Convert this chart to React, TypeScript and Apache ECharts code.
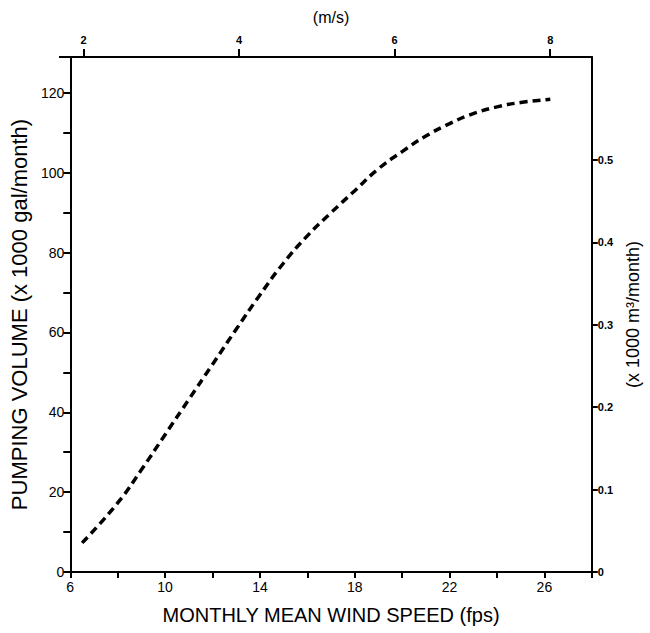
import React, { useEffect, useRef } from "react";
import * as echarts from "echarts";

const windFps = [6.5, 8, 9, 10, 11, 12, 13, 14, 15, 16, 17, 18, 19, 20, 21, 22, 23, 24, 25, 26.25];
const pumpVolume = [7.3, 17.3, 25.6, 34.4, 43.2, 52, 60.8, 69.4, 77.4, 84.2, 90, 95.5, 101, 105.3, 109.2, 112.3, 114.8, 116.5, 117.6, 118.4];
const topTicks = [2, 4, 6, 8];
const rightTicks = [0, 0.1, 0.2, 0.3, 0.4, 0.5];
const FPS_PER_MS = 3.28084;

const FONT = "'Liberation Sans', Arial, Helvetica, sans-serif";

export default function App() {
  const ref = useRef<HTMLDivElement>(null);
  useEffect(() => {
    if (!ref.current) return;
    const chart = echarts.init(ref.current, null, { renderer: "svg" });
    const axisLine = { show: true, onZero: false, lineStyle: { color: "#000", width: 2 } };
    const tick = { show: true, inside: false, length: 6, lineStyle: { color: "#000", width: 2 } };
    chart.setOption({
      animation: false,
      backgroundColor: "#fff",
      grid: { left: 67, right: 56, top: 57, bottom: 61, containLabel: false },
      graphic: [
        {
          type: "line",
          shape: { x1: 59, y1: 57, x2: 68, y2: 57 },
          style: { stroke: "#000", lineWidth: 2 },
        },
      ],
      xAxis: [
        {
          type: "value",
          position: "bottom",
          min: 6,
          max: 28,
          interval: 2,
          axisLine,
          axisTick: tick,
          splitLine: { show: false },
          axisLabel: {
            color: "#000",
            fontFamily: FONT,
            fontSize: 14,
            margin: 8,
            formatter: (v: number) => ((v - 6) % 4 === 0 && v < 28 ? String(v) : ""),
          },
          name: "MONTHLY MEAN WIND SPEED (fps)",
          nameLocation: "middle",
          nameGap: 33,
          nameTextStyle: { color: "#000", fontFamily: FONT, fontSize: 20 },
        },
        {
          type: "value",
          position: "top",
          min: 6 / FPS_PER_MS,
          max: 28 / FPS_PER_MS,
          axisLine,
          axisTick: { ...tick, length: 8, customValues: topTicks },
          splitLine: { show: false },
          axisLabel: {
            color: "#000",
            fontFamily: FONT,
            fontSize: 11,
            fontWeight: "bold",
            margin: 12,
            customValues: topTicks,
            formatter: (v: number) => String(v),
          },
          name: "(m/s)",
          nameLocation: "middle",
          nameGap: 32,
          nameTextStyle: { color: "#000", fontFamily: FONT, fontSize: 16 },
        },
      ],
      yAxis: [
        {
          type: "value",
          position: "left",
          min: 0,
          max: 129,
          interval: 10,
          axisLine,
          axisTick: { ...tick, length: 7 },
          splitLine: { show: false },
          axisLabel: {
            color: "#000",
            fontFamily: FONT,
            fontSize: 14,
            margin: 6,
            formatter: (v: number) => (v % 20 === 0 ? String(v) : ""),
          },
          name: "PUMPING VOLUME (x 1000 gal/month)",
          nameLocation: "middle",
          nameGap: 37,
          nameRotate: 90,
          nameTextStyle: { color: "#000", fontFamily: FONT, fontSize: 22 },
        },
        {
          type: "value",
          position: "right",
          min: 0,
          max: 0.625,
          axisLine,
          axisTick: { ...tick, customValues: rightTicks },
          splitLine: { show: false },
          axisLabel: {
            color: "#000",
            fontFamily: FONT,
            fontSize: 11,
            fontWeight: "bold",
            margin: 6,
            customValues: rightTicks,
            formatter: (v: number) => (v === 0 ? "0" : v.toFixed(1)),
          },
          name: "(x 1000 m\u00b3/month)",
          nameLocation: "middle",
          nameGap: 31,
          nameRotate: 90,
          nameTextStyle: { color: "#000", fontFamily: FONT, fontSize: 18 },
        },
      ],
      series: [
        {
          type: "line",
          xAxisIndex: 0,
          yAxisIndex: 0,
          data: windFps.map((x, i) => [x, pumpVolume[i]]),
          smooth: 0.5,
          showSymbol: false,
          lineStyle: { color: "#000", width: 3.5, type: [8, 5], cap: "butt" },
        },
      ],
    });
    return () => chart.dispose();
  }, []);
  return (
    <div
      ref={ref}
      style={{ position: "fixed", left: 0, top: 0, width: 650, height: 633 }}
    />
  );
}
